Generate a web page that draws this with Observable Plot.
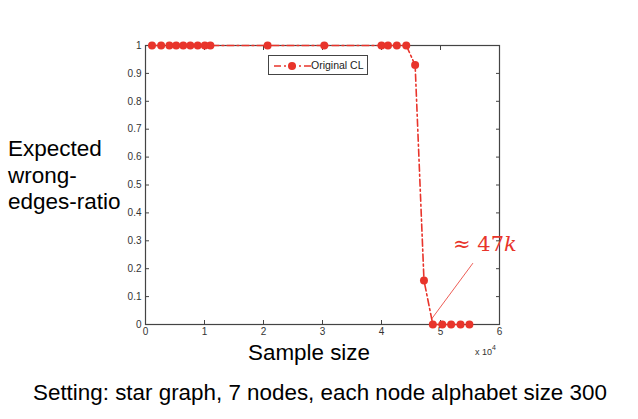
<!DOCTYPE html>
<html>
<head>
<meta charset="utf-8">
<script src="https://cdn.jsdelivr.net/npm/d3@7"></script>
<script src="https://cdn.jsdelivr.net/npm/@observablehq/plot@0.6"></script>
<style>
  html, body { margin: 0; padding: 0; background: #fff; }
  #wrap { position: relative; width: 638px; height: 419px; font-family: "Liberation Sans", Arial, sans-serif; }
  #wrap svg { position: absolute; left: 0; top: 0; }
  .lbl { position: absolute; color: #000; white-space: nowrap; }
</style>
</head>
<body>
<div id="wrap"></div>
<script>
// ---- data ----
const sampleSizes = [1100, 2650, 4050, 5200, 6400, 7600, 8850, 10050, 11000, 20700, 30300,
  40000, 41100, 42600, 44200, 45700, 47200, 48700, 50300, 51800, 53400, 54900];
const wrongRatio = [1, 1, 1, 1, 1, 1, 1, 1, 1, 1, 1,
  1, 1, 1, 1, 0.93, 0.158, 0, 0, 0, 0, 0];
const xTicks = [0, 10000, 20000, 30000, 40000, 50000, 60000];
const yTicks = [0, 0.1, 0.2, 0.3, 0.4, 0.5, 0.6, 0.7, 0.8, 0.9, 1];
const seriesName = "Original CL";
const annotArrowFrom = {x: 55500, y: 0.22};
const annotArrowTo = {x: 48500, y: 0.02};
const annotText = {x: 57800, y: 0.276};

const data = sampleSizes.map((x, i) => ({x, y: wrongRatio[i]}));
const red = "#e8342b";
const axisColor = "#444";

const plot = Plot.plot({
  width: 638,
  height: 419,
  marginLeft: 145,
  marginRight: 139,
  marginTop: 45,
  marginBottom: 95,
  style: {fontFamily: "'Liberation Sans', Arial, sans-serif", fontSize: "10px", color: "#333", background: "#fff"},
  x: {domain: [0, 60000]},
  y: {domain: [0, 1]},
  marks: [
    Plot.axisX({anchor: "bottom", ticks: xTicks, tickSize: -4, tickPadding: 7, tickFormat: d => d / 10000, label: null, stroke: axisColor}),
    Plot.axisX({anchor: "top", ticks: xTicks, tickSize: -4, tickFormat: () => "", label: null, stroke: axisColor}),
    Plot.axisY({anchor: "left", ticks: yTicks, tickSize: -4, tickPadding: 8, tickFormat: d3.format("~g"), label: null, stroke: axisColor}),
    Plot.axisY({anchor: "right", ticks: yTicks, tickSize: -4, tickFormat: () => "", label: null, stroke: axisColor}),
    Plot.frame({stroke: axisColor, strokeWidth: 1.2}),
    Plot.line(data, {x: "x", y: "y", stroke: red, strokeWidth: 1.6, strokeDasharray: "7,3,2,3"}),
    Plot.dot(data, {x: "x", y: "y", r: 4, fill: red, stroke: "none"}),
    Plot.link([{x1: annotArrowFrom.x, y1: annotArrowFrom.y, x2: annotArrowTo.x, y2: annotArrowTo.y}],
      {x1: "x1", y1: "y1", x2: "x2", y2: "y2", stroke: red, strokeWidth: 0.8})
  ]
});

const wrap = document.getElementById("wrap");
wrap.appendChild(plot);
const sx = plot.scale("x"), sy = plot.scale("y");

function addLabel(html, left, top, style) {
  const d = document.createElement("div");
  d.className = "lbl";
  d.innerHTML = html;
  d.style.left = left + "px";
  d.style.top = top + "px";
  Object.assign(d.style, style || {});
  wrap.appendChild(d);
  return d;
}

// y label
addLabel("Expected<br>wrong-<br>edges-ratio", 8, 136, {fontSize: "22.5px", lineHeight: "26.5px"});
// x label
addLabel("Sample size", 248, 340, {fontSize: "22.4px"});
// caption
addLabel("Setting: star graph, 7 nodes, each node alphabet size 300", 33, 380, {fontSize: "22.4px"});
// x 10^4
addLabel("x 10<sup style='font-size:7px;vertical-align:5px'>4</sup>", 475, 344, {fontSize: "9px", color: "#333"});
// annotation text
const ax = sx.apply(annotText.x), ay = sy.apply(annotText.y);
const ann = addLabel("≈ 47<i>k</i>", ax - 33, ay - 15, {fontSize: "21px", color: red, fontFamily: "'DejaVu Serif', 'Liberation Serif', serif"});

// legend
const legend = document.createElement("div");
legend.style.cssText = "position:absolute;left:268px;top:55px;width:98px;height:18px;border:1px solid #444;background:#fff;";
legend.innerHTML = `<svg width="40" height="18" style="position:absolute;left:4px;top:0"><line x1="1" y1="10" x2="38" y2="10" stroke="${red}" stroke-width="1.6" stroke-dasharray="7,3,2,3"/><circle cx="19" cy="10" r="4" fill="${red}"/></svg><span style="position:absolute;left:42px;top:3px;font-size:10.5px;color:#222">${seriesName}</span>`;
wrap.appendChild(legend);
</script>
</body>
</html>
